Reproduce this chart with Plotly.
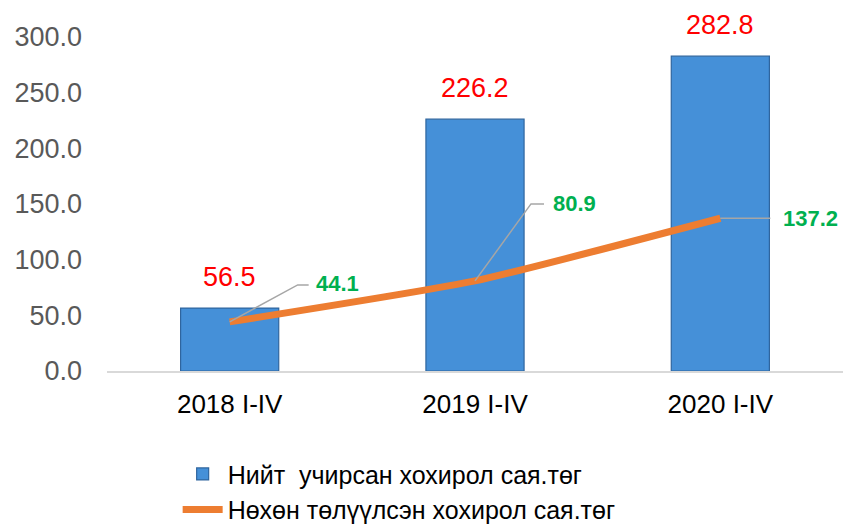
import plotly.graph_objects as go

categories = ["2018 I-IV", "2019 I-IV", "2020 I-IV"]
total_damage = [56.5, 226.2, 282.8]
repaid_damage = [44.1, 80.9, 137.2]
y_ticks = [0, 50, 100, 150, 200, 250, 300]
bar_name = "Нийт  учирсан хохирол сая.төг"
line_name = "Нөхөн төлүүлсэн хохирол сая.төг"

FONT = "Arial, Liberation Sans, sans-serif"

fig = go.Figure()
fig.add_trace(go.Bar(
    x=categories, y=total_damage, name=bar_name,
    marker=dict(color="#4590D8", line=dict(color="#2F659E", width=1.2)),
    cliponaxis=False,
))
fig.add_trace(go.Scatter(
    x=categories, y=repaid_damage, name=line_name, mode="lines",
    line=dict(color="#ED7D31", width=7, shape="spline", smoothing=0.5),
    cliponaxis=False,
))

# red value labels above bars
for c, v in zip(categories, total_damage):
    fig.add_annotation(x=c, y=v, text=f"{v:.1f}", showarrow=False,
                       yanchor="bottom", yshift=14,
                       font=dict(family=FONT, size=27, color="#FF0000"))

# green labels with leader lines (offsets in pixels)
label_offsets = [(108, 38), (99, 77), (90, 0)]
leader_paths = ["M0,0 L68,37 L79,37", "M0,0 L56,77 L69,77", "M0,0 L50,0"]
for c, v, (dx, dy), p in zip(categories, repaid_damage, label_offsets, leader_paths):
    fig.add_shape(type="path", xref="x", yref="y", xsizemode="pixel", ysizemode="pixel",
                  xanchor=c, yanchor=v, path=p,
                  line=dict(color="#A6A6A6", width=1.5))
    fig.add_annotation(x=c, y=v, text=f"<b>{v:.1f}</b>", showarrow=False,
                       xshift=dx, yshift=dy,
                       font=dict(family=FONT, size=22, color="#00B050"))

fig.update_layout(
    width=843, height=526,
    margin=dict(l=107, r=0, t=37, b=155, autoexpand=False),
    paper_bgcolor="white", plot_bgcolor="white",
    bargap=0.6,
    showlegend=True,
    legend=dict(orientation="v", x=0.096, xanchor="left", y=-0.24, yanchor="top",
                font=dict(family=FONT, size=25, color="#000000"),
                bgcolor="rgba(0,0,0,0)", tracegroupgap=0, itemwidth=40),
    font=dict(family=FONT),
)
fig.update_xaxes(
    showline=True, linecolor="#D9D9D9", linewidth=2, showgrid=False,
    ticks="", ticklabelstandoff=9, automargin=False,
    tickfont=dict(family="Liberation Sans Narrow, Arial Narrow, " + FONT, size=26, color="#000000"),
)
fig.update_yaxes(
    range=[0, 300], tickvals=y_ticks, tickformat=".1f", showgrid=False, zeroline=False,
    showline=False, ticks="", ticklabelstandoff=24, automargin=False,
    tickfont=dict(family=FONT, size=27, color="#595959"),
)

fig.write_html("out.html", config={"displayModeBar": False},
               post_script="document.body.style.margin='0';document.body.style.overflow='hidden';")
